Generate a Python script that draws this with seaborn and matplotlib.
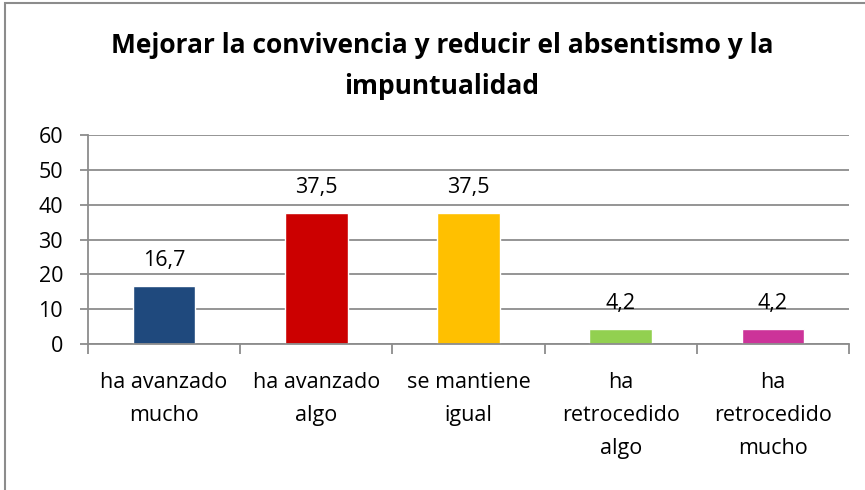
import seaborn as sns
import matplotlib.pyplot as plt
import pandas as pd
from matplotlib.patches import Rectangle

categories = ["ha avanzado\nmucho", "ha avanzado\nalgo", "se mantiene\nigual",
              "ha\nretrocedido\nalgo", "ha\nretrocedido\nmucho"]
values = [16.7, 37.5, 37.5, 4.2, 4.2]
colors = ["#1F497D", "#CC0000", "#FFC000", "#92D050", "#CC3399"]
title = "Mejorar la convivencia y reducir el absentismo y la\nimpuntualidad"

sns.set_theme(style="white")
plt.rcParams['font.family'] = ['Open Sans', 'DejaVu Sans']
plt.rcParams['text.color'] = 'black'
plt.rcParams['xtick.labelcolor'] = 'black'
plt.rcParams['ytick.labelcolor'] = 'black'

df = pd.DataFrame({"cat": categories, "val": values})

fig = plt.figure(figsize=(8.65, 4.9), dpi=100)
ax = fig.add_axes([88/865, 1 - 344/490, (849-88)/865, (344-135)/490])

sns.barplot(data=df, x="cat", y="val", hue="cat", palette=colors,
            legend=False, width=0.41, ax=ax, saturation=1)

ax.set_ylim(0, 60)
ax.set_yticks(range(0, 61, 10))
ax.set_xlim(-0.5, 4.5)
ax.yaxis.grid(True, color="#8C8C8C", linewidth=1.3)
ax.set_axisbelow(True)
ax.set_xlabel("")
ax.set_ylabel("")

for s in ["top", "right"]:
    ax.spines[s].set_visible(False)
for s in ["left", "bottom"]:
    ax.spines[s].set_color("#8C8C8C")
    ax.spines[s].set_linewidth(1.3)

ax.tick_params(axis="y", length=6, width=1.3, color="#8C8C8C", pad=12,
               labelsize=15.5, left=True)
ax.tick_params(axis="x", length=0, pad=20, labelsize=15.5)
ax.set_xticks(range(len(categories)))
ax.set_xticklabels(categories, linespacing=1.75)
ax.set_xticks([i - 0.5 for i in range(len(categories) + 1)], minor=True)
ax.tick_params(axis="x", which="minor", length=7, width=1.3, color="#8C8C8C",
               bottom=True)

for c in ax.containers:
    ax.bar_label(c, labels=[f"{v:.1f}".replace(".", ",") for v in c.datavalues],
                 padding=11, fontsize=15.5)

fig.text(442/865, 1 - 66/490, title, ha="center", va="center",
         fontsize=19, fontweight="bold", linespacing=1.65)

fig.patches.append(Rectangle((5/865, -0.1), 1.2, 1 - 3/490 + 0.1,
                             transform=fig.transFigure, fill=False,
                             edgecolor="#8C8C8C", linewidth=1.5))

fig.savefig("out.png", dpi=100)
